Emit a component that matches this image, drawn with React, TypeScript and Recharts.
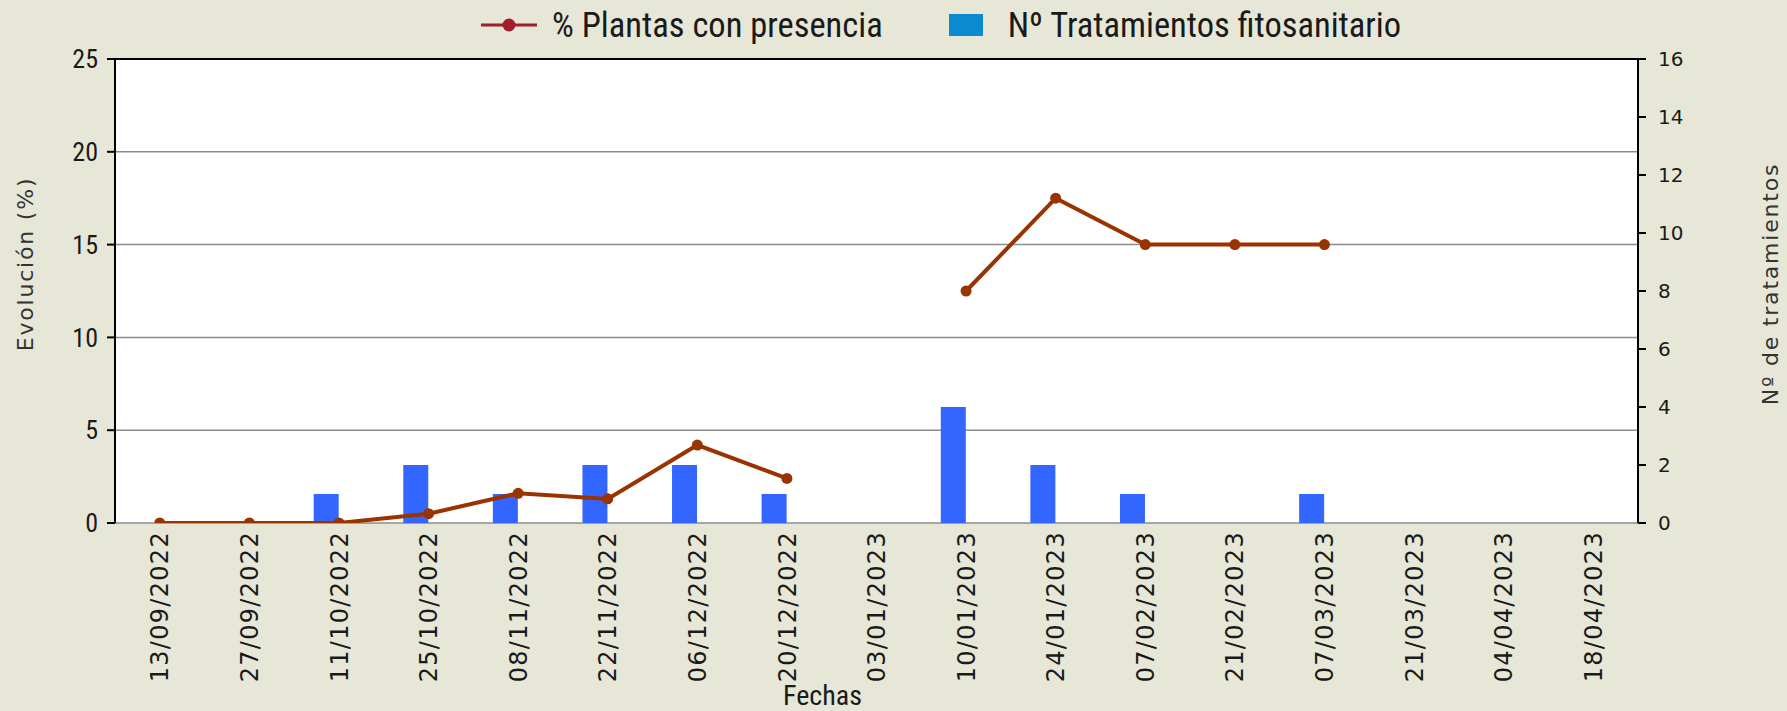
import React from 'react';
import {
  ComposedChart, Bar, Line, XAxis, YAxis, CartesianGrid, ReferenceLine,
} from 'recharts';

const categories = [
  '13/09/2022', '27/09/2022', '11/10/2022', '25/10/2022', '08/11/2022', '22/11/2022',
  '06/12/2022', '20/12/2022', '03/01/2023', '10/01/2023', '24/01/2023', '07/02/2023',
  '21/02/2023', '07/03/2023', '21/03/2023', '04/04/2023', '18/04/2023',
];
const presence: (number | null)[] = [0, 0, 0, 0.5, 1.6, 1.3, 4.2, 2.4, null, 12.5, 17.5, 15, 15, 15, null, null, null];
const treatments: (number | null)[] = [null, null, 1, 2, 1, 2, 2, 1, null, 4, 2, 1, null, 1, null, null, null];

const leftTicks = [0, 5, 10, 15, 20, 25];
const rightTicks = [0, 2, 4, 6, 8, 10, 12, 14, 16];
const boundaryTicks = categories.map((_, i) => i).concat([categories.length]);

const lineName = '% Plantas con presencia';
const barName = 'Nº Tratamientos fitosanitario';
const leftTitle = 'Evolución (%)';
const rightTitle = 'Nº de tratamientos';
const xTitle = 'Fechas';

const data = categories.map((date, i) => ({ date, presence: presence[i], treatments: treatments[i] }));

const BG = '#E7E7D7';
const LINE = '#993300';
const BAR = '#3366FF';
const NARROW = "'Liberation Sans Narrow', 'Arial Narrow', 'Roboto Condensed', sans-serif";
const WIDE = "'DejaVu Sans', Verdana, sans-serif";

const XTick = (props: any) => {
  const { x, y, payload } = props;
  return (
    <text x={x} y={y} transform={`rotate(-90, ${x}, ${y})`} textAnchor="end" dy="0.36em"
      fontFamily={WIDE} fontSize={24} letterSpacing={1.3} fill="#1a1a1a">
      {payload.value}
    </text>
  );
};

const EmptyTick = () => <g />;

const BarShape = (props: any) => {
  const { x, y, width, height } = props;
  if (!height || height <= 0) return null;
  return <rect x={x - width / 2} y={y} width={width} height={height} fill={BAR} />;
};

export default function App() {
  return (
    <div style={{ position: 'absolute', left: 0, top: 0, width: 1787, height: 711, background: BG, overflow: 'hidden' }}>
      <div style={{ position: 'absolute', left: 481, top: 7, height: 36, display: 'flex', alignItems: 'center',
        fontFamily: NARROW, fontSize: 34.5, color: '#1a1a1a', whiteSpace: 'nowrap' }}>
        <svg width={56} height={20} style={{ marginRight: 15 }}>
          <line x1={0} y1={10} x2={56} y2={10} stroke="#A01E2E" strokeWidth={3} />
          <circle cx={28} cy={10} r={6.5} fill="#A01E2E" />
        </svg>
        <span>{lineName}</span>
        <div style={{ width: 34, height: 22, background: '#0A8AD0', marginLeft: 66, marginRight: 25 }} />
        <span>{barName}</span>
      </div>
      <ComposedChart width={1787} height={711} data={data}
        margin={{ top: 59, right: 89, left: 55, bottom: 0 }}>
        <CartesianGrid yAxisId="left" vertical={false} stroke="#8c8c8c" strokeWidth={1.5} fill="#ffffff" />
        <XAxis xAxisId="bounds" type="number" domain={[0, categories.length]} ticks={boundaryTicks}
          allowDataOverflow height={0} tick={<EmptyTick />} tickSize={9}
          axisLine={{ stroke: '#000', strokeWidth: 2 }} tickLine={{ stroke: '#000', strokeWidth: 2 }} />
        <XAxis dataKey="date" height={188} tickSize={0} tickMargin={8} interval={0}
          axisLine={false} tickLine={false} tick={<XTick />}
          label={({ viewBox }: any) => (
            <text x={viewBox.x + viewBox.width / 2 - 54} y={viewBox.y + viewBox.height - 6}
              textAnchor="middle" fontFamily={NARROW} fontSize={28} fill="#1a1a1a">{xTitle}</text>
          )} />
        <YAxis yAxisId="left" orientation="left" width={60} domain={[0, 25]} ticks={leftTicks}
          allowDataOverflow tickSize={8} tickMargin={9}
          axisLine={{ stroke: '#000', strokeWidth: 2 }} tickLine={{ stroke: '#000', strokeWidth: 2 }}
          tick={{ fontFamily: NARROW, fontSize: 26, fill: '#1a1a1a' }}
          label={({ viewBox }: any) => (
            <text x={viewBox.x - 30} y={viewBox.y + viewBox.height / 2 - 27}
              transform={`rotate(-90, ${viewBox.x - 30}, ${viewBox.y + viewBox.height / 2 - 27})`}
              textAnchor="middle" dy="0.36em" fontFamily={WIDE} fontSize={22} letterSpacing={1.8} fill="#333">{leftTitle}</text>
          )} />
        <YAxis yAxisId="right" orientation="right" width={60} domain={[0, 16]} ticks={rightTicks}
          allowDataOverflow tickSize={8} tickMargin={12}
          axisLine={{ stroke: '#000', strokeWidth: 2 }} tickLine={{ stroke: '#000', strokeWidth: 2 }}
          tick={{ fontFamily: WIDE, fontSize: 20, fill: '#1a1a1a' }}
          label={({ viewBox }: any) => (
            <text x={viewBox.x + viewBox.width + 72} y={viewBox.y + viewBox.height / 2 - 7}
              transform={`rotate(-90, ${viewBox.x + viewBox.width + 72}, ${viewBox.y + viewBox.height / 2 - 7})`}
              textAnchor="middle" dy="0.36em" fontFamily={WIDE} fontSize={22} letterSpacing={1.8} fill="#333">{rightTitle}</text>
          )} />
        <ReferenceLine yAxisId="left" y={25} stroke="#000" strokeWidth={2} />
        <Bar yAxisId="right" dataKey="treatments" name={barName} barSize={25} fill={BAR}
          shape={<BarShape />} isAnimationActive={false} />
        <Line yAxisId="left" dataKey="presence" name={lineName} stroke={LINE} strokeWidth={4}
          dot={{ r: 5.5, fill: LINE, stroke: LINE, strokeWidth: 0 }} connectNulls={false}
          isAnimationActive={false} />
      </ComposedChart>
    </div>
  );
}
